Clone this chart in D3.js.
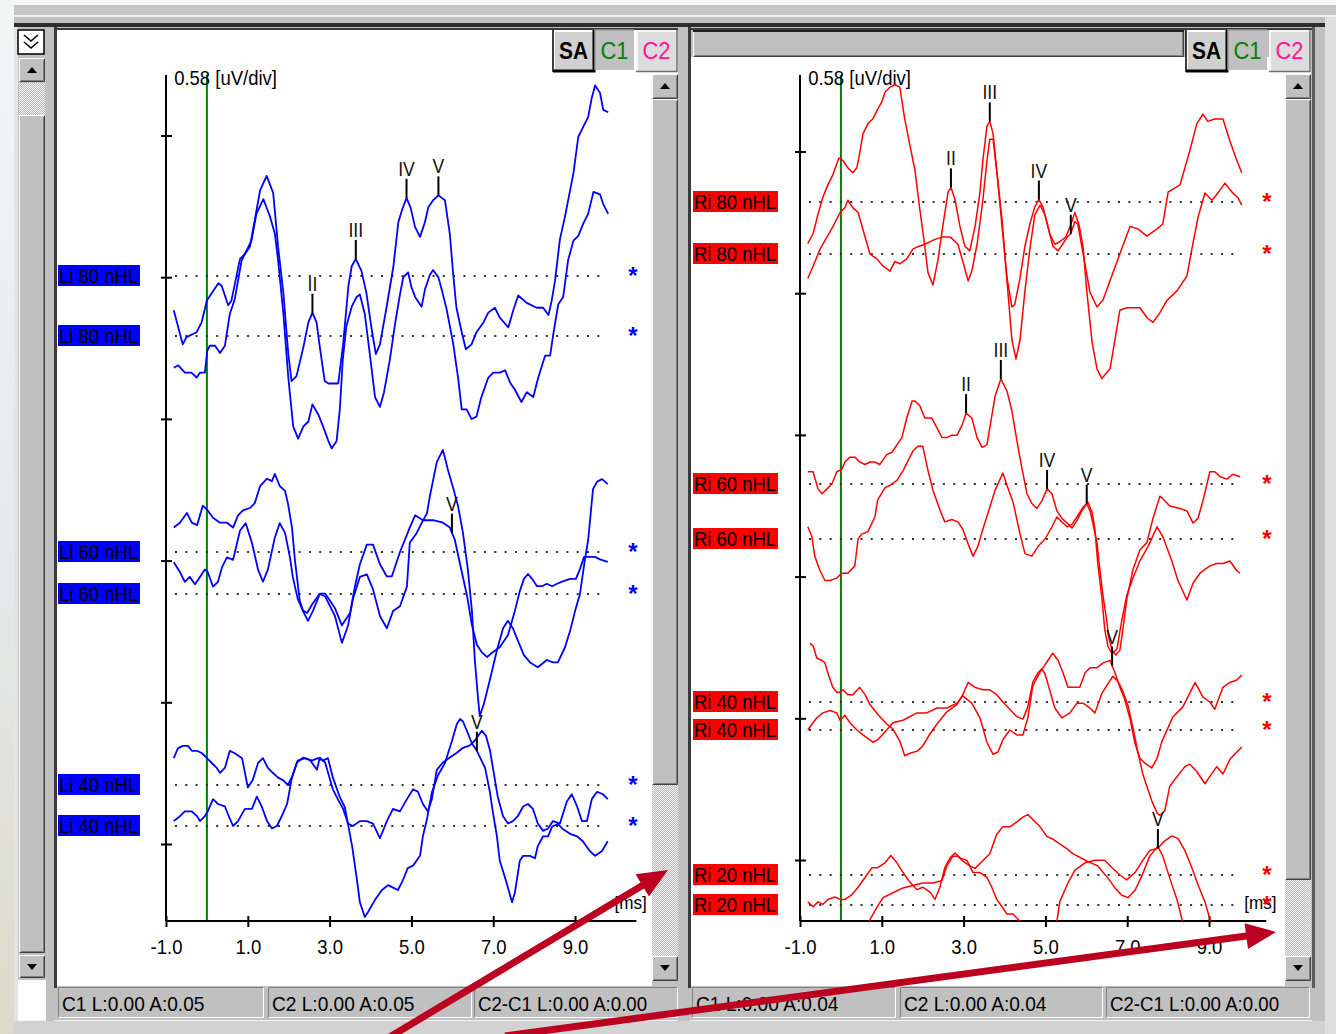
<!DOCTYPE html>
<html><head><meta charset="utf-8"><title>ABR</title>
<script src="https://cdn.jsdelivr.net/npm/d3@7/dist/d3.min.js"></script>
<style>html,body{margin:0;padding:0;overflow:hidden;background:#fff}svg{display:block}</style>
</head><body><svg id="chart" width="1336" height="1034"></svg>
<script>
// ================= DATA =================
const xTicks = [-1, 1, 3, 5, 7, 9];
const uvPerDiv = 0.58;
const axisTitle = "0.58 [uV/div]";
const timeUnit = "[ms]";
const leftLabels = ["Li 80 nHL","Li 80 nHL","Li 60 nHL","Li 60 nHL","Li 40 nHL","Li 40 nHL"];
const rightLabels = ["Ri 80 nHL","Ri 80 nHL","Ri 60 nHL","Ri 60 nHL","Ri 40 nHL","Ri 40 nHL","Ri 20 nHL","Ri 20 nHL"];
const leftStatus = ["C1 L:0.00 A:0.05","C2 L:0.00 A:0.05","C2-C1 L:0.00 A:0.00"];
const rightStatus = ["C1 L:0.00 A:0.04","C2 L:0.00 A:0.04","C2-C1 L:0.00 A:0.00"];
const buttons = ["SA","C1","C2"];

// traces: [time ms, amplitude uV relative to the trace baseline]
const li80a = [[-0.81,-0.14],[-0.59,-0.28],[-0.50,-0.25],[-0.25,-0.23],[-0.13,-0.19],[0.00,-0.10],[0.08,-0.08],[0.28,-0.03],[0.36,-0.04],[0.52,-0.12],[0.60,-0.10],[0.81,0.07],[0.93,0.09],[1.05,0.12],[1.17,0.23],[1.30,0.35],[1.46,0.41],[1.62,0.34],[1.74,0.12],[1.87,-0.07],[1.99,-0.32],[2.07,-0.43],[2.19,-0.41],[2.36,-0.29],[2.48,-0.19],[2.58,-0.15],[2.68,-0.19],[2.76,-0.29],[2.88,-0.43],[2.97,-0.44],[3.21,-0.44],[3.33,-0.28],[3.46,-0.04],[3.54,0.04],[3.64,0.07],[3.78,0.02],[3.90,-0.07],[4.03,-0.22],[4.13,-0.32],[4.23,-0.28],[4.39,-0.13],[4.56,0.04],[4.68,0.22],[4.77,0.27],[4.88,0.32],[4.98,0.28],[5.09,0.20],[5.21,0.16],[5.33,0.22],[5.41,0.28],[5.53,0.31],[5.66,0.33],[5.82,0.31],[5.94,0.17],[6.02,0.01],[6.10,-0.13],[6.23,-0.23],[6.33,-0.30],[6.47,-0.28],[6.59,-0.23],[6.76,-0.19],[6.88,-0.15],[7.04,-0.13],[7.16,-0.17],[7.37,-0.21],[7.49,-0.14],[7.61,-0.08],[7.82,-0.11],[8.06,-0.13],[8.22,-0.13],[8.35,-0.16],[8.43,-0.10],[8.51,-0.02],[8.63,0.15],[8.75,0.24],[8.96,0.42],[9.08,0.57],[9.20,0.61],[9.32,0.65],[9.41,0.73],[9.49,0.78],[9.61,0.75],[9.69,0.68],[9.81,0.67]];
const li80b = [[-0.81,-0.13],[-0.70,-0.12],[-0.54,-0.15],[-0.38,-0.15],[-0.25,-0.17],[-0.17,-0.15],[-0.05,-0.15],[0.01,-0.06],[0.07,-0.04],[0.20,-0.04],[0.32,-0.07],[0.44,-0.04],[0.56,0.09],[0.68,0.15],[0.85,0.31],[0.97,0.35],[1.09,0.39],[1.21,0.50],[1.38,0.56],[1.54,0.49],[1.66,0.42],[1.74,0.31],[1.87,0.09],[1.99,-0.17],[2.11,-0.37],[2.23,-0.42],[2.36,-0.37],[2.48,-0.35],[2.58,-0.28],[2.72,-0.32],[2.84,-0.37],[2.97,-0.43],[3.05,-0.46],[3.17,-0.43],[3.25,-0.30],[3.32,-0.10],[3.41,0.04],[3.54,0.12],[3.66,0.16],[3.74,0.17],[3.86,0.09],[3.98,-0.07],[4.11,-0.25],[4.23,-0.29],[4.33,-0.23],[4.47,-0.10],[4.60,0.05],[4.72,0.17],[4.80,0.24],[4.92,0.26],[5.00,0.20],[5.09,0.16],[5.25,0.12],[5.33,0.19],[5.45,0.25],[5.53,0.27],[5.66,0.24],[5.74,0.19],[5.86,0.11],[6.02,-0.03],[6.14,-0.17],[6.23,-0.30],[6.35,-0.30],[6.47,-0.34],[6.59,-0.33],[6.71,-0.25],[6.88,-0.17],[7.00,-0.15],[7.16,-0.15],[7.29,-0.14],[7.41,-0.19],[7.53,-0.22],[7.69,-0.27],[7.82,-0.23],[7.98,-0.25],[8.10,-0.17],[8.27,-0.08],[8.39,-0.08],[8.47,0.01],[8.59,0.13],[8.71,0.16],[8.83,0.31],[8.96,0.39],[9.08,0.41],[9.20,0.46],[9.32,0.50],[9.45,0.59],[9.61,0.58],[9.69,0.54],[9.81,0.50]];
const li60a = [[-0.81,0.10],[-0.66,0.12],[-0.49,0.16],[-0.37,0.12],[-0.24,0.11],[-0.10,0.19],[0.02,0.17],[0.15,0.14],[0.32,0.12],[0.49,0.12],[0.64,0.10],[0.76,0.15],[0.88,0.17],[1.05,0.18],[1.17,0.20],[1.30,0.27],[1.47,0.30],[1.59,0.29],[1.66,0.32],[1.78,0.27],[1.91,0.25],[1.98,0.20],[2.08,0.10],[2.15,-0.03],[2.27,-0.20],[2.35,-0.24],[2.45,-0.25],[2.59,-0.21],[2.76,-0.17],[2.89,-0.17],[3.01,-0.20],[3.13,-0.23],[3.30,-0.30],[3.50,-0.25],[3.62,-0.14],[3.74,-0.05],[3.91,0.03],[4.06,0.03],[4.23,-0.05],[4.40,-0.10],[4.52,-0.10],[4.72,0.00],[4.96,0.10],[5.09,0.15],[5.28,0.13],[5.53,0.13],[5.77,0.12],[5.94,0.10],[6.06,0.05],[6.19,-0.05],[6.36,-0.18],[6.48,-0.30],[6.60,-0.38],[6.72,-0.41],[6.85,-0.43],[6.99,-0.41],[7.16,-0.39],[7.36,-0.34],[7.53,-0.24],[7.65,-0.16],[7.75,-0.11],[7.85,-0.09],[7.95,-0.11],[8.07,-0.14],[8.19,-0.14],[8.31,-0.13],[8.44,-0.14],[8.56,-0.13],[8.70,-0.12],[8.88,-0.11],[9.02,-0.11],[9.12,-0.07],[9.22,-0.02],[9.36,-0.02],[9.49,-0.02],[9.61,-0.03],[9.80,-0.04]];
const li60b = [[-0.81,0.13],[-0.66,0.09],[-0.54,0.05],[-0.42,0.07],[-0.29,0.04],[-0.17,0.07],[-0.05,0.10],[0.02,0.09],[0.15,0.03],[0.27,0.05],[0.37,0.11],[0.49,0.15],[0.64,0.14],[0.81,0.26],[0.95,0.29],[1.10,0.21],[1.25,0.10],[1.37,0.05],[1.49,0.10],[1.66,0.23],[1.78,0.29],[1.91,0.25],[2.03,0.15],[2.10,0.07],[2.22,-0.02],[2.35,-0.07],[2.47,-0.11],[2.59,-0.07],[2.76,0.00],[2.89,-0.01],[3.01,-0.05],[3.13,-0.09],[3.30,-0.20],[3.45,-0.13],[3.57,-0.02],[3.74,0.07],[3.91,0.08],[4.06,0.02],[4.23,-0.09],[4.40,-0.14],[4.55,-0.07],[4.72,-0.05],[4.89,0.03],[4.96,0.21],[5.13,0.25],[5.28,0.30],[5.38,0.33],[5.45,0.40],[5.62,0.54],[5.77,0.59],[5.89,0.51],[6.01,0.44],[6.14,0.36],[6.26,0.25],[6.38,0.10],[6.48,-0.07],[6.55,-0.27],[6.63,-0.43],[6.67,-0.50],[6.77,-0.45],[6.92,-0.35],[7.09,-0.23],[7.24,-0.14],[7.36,-0.11],[7.48,-0.14],[7.60,-0.19],[7.75,-0.25],[7.90,-0.28],[8.09,-0.30],[8.31,-0.27],[8.46,-0.28],[8.58,-0.28],[8.75,-0.22],[8.88,-0.15],[9.00,-0.07],[9.12,0.00],[9.24,0.14],[9.32,0.22],[9.44,0.43],[9.54,0.46],[9.66,0.47],[9.80,0.45]];
const li40a = [[-0.81,0.11],[-0.71,0.15],[-0.59,0.16],[-0.46,0.16],[-0.37,0.14],[-0.24,0.14],[-0.12,0.13],[0.00,0.11],[0.12,0.09],[0.24,0.07],[0.32,0.05],[0.44,0.07],[0.56,0.14],[0.68,0.13],[0.86,0.11],[0.93,0.05],[1.00,-0.01],[1.12,0.02],[1.25,0.09],[1.37,0.11],[1.49,0.07],[1.61,0.05],[1.74,0.03],[1.86,0.02],[1.98,0.00],[2.10,0.04],[2.22,0.10],[2.40,0.11],[2.57,0.10],[2.71,0.11],[2.84,0.10],[2.96,0.11],[3.08,0.03],[3.25,-0.05],[3.37,-0.09],[3.45,-0.16],[3.55,-0.25],[3.67,-0.39],[3.74,-0.48],[3.86,-0.54],[3.94,-0.52],[4.11,-0.47],[4.28,-0.43],[4.43,-0.41],[4.55,-0.42],[4.67,-0.43],[4.79,-0.39],[4.91,-0.34],[5.04,-0.33],[5.21,-0.29],[5.28,-0.21],[5.38,-0.14],[5.50,-0.03],[5.65,0.04],[5.82,0.09],[5.99,0.18],[6.11,0.25],[6.19,0.27],[6.26,0.26],[6.36,0.22],[6.48,0.17],[6.60,0.14],[6.80,0.07],[6.92,-0.03],[6.99,-0.11],[7.09,-0.21],[7.16,-0.31],[7.29,-0.38],[7.46,-0.48],[7.53,-0.44],[7.65,-0.31],[7.73,-0.29],[7.90,-0.29],[8.02,-0.30],[8.09,-0.25],[8.22,-0.21],[8.34,-0.21],[8.44,-0.17],[8.58,-0.16],[8.70,-0.18],[8.88,-0.20],[9.05,-0.21],[9.19,-0.23],[9.36,-0.27],[9.49,-0.29],[9.66,-0.27],[9.80,-0.23]];
const li40b = [[-0.81,0.02],[-0.66,0.04],[-0.54,0.06],[-0.37,0.06],[-0.24,0.04],[-0.17,0.02],[-0.05,0.04],[0.02,0.06],[0.15,0.11],[0.27,0.09],[0.44,0.08],[0.51,0.05],[0.64,0.00],[0.76,0.02],[0.93,0.07],[1.10,0.07],[1.22,0.12],[1.34,0.08],[1.47,0.02],[1.59,-0.01],[1.71,0.00],[1.83,0.04],[1.96,0.09],[2.08,0.20],[2.20,0.26],[2.35,0.28],[2.52,0.27],[2.69,0.23],[2.76,0.28],[2.89,0.26],[3.01,0.19],[3.08,0.15],[3.20,0.11],[3.33,0.07],[3.45,0.01],[3.57,0.00],[3.74,0.02],[3.91,0.02],[4.06,0.01],[4.23,-0.05],[4.40,0.02],[4.55,0.07],[4.72,0.06],[4.89,0.11],[5.04,0.15],[5.16,0.14],[5.28,0.09],[5.40,0.06],[5.50,0.11],[5.62,0.23],[5.77,0.26],[5.94,0.28],[6.11,0.30],[6.26,0.32],[6.43,0.33],[6.55,0.35],[6.72,0.39],[6.82,0.37],[6.92,0.31],[6.99,0.24],[7.11,0.12],[7.24,0.04],[7.36,0.01],[7.48,0.02],[7.60,0.04],[7.73,0.08],[7.85,0.09],[7.97,0.07],[8.09,0.01],[8.22,-0.02],[8.34,-0.01],[8.46,0.02],[8.63,0.01],[8.80,0.10],[8.92,0.13],[9.05,0.08],[9.17,0.02],[9.29,0.02],[9.41,0.11],[9.54,0.14],[9.68,0.13],[9.80,0.11]];

const ri80a = [[-0.81,-0.17],[-0.68,-0.13],[-0.56,-0.05],[-0.44,0.02],[-0.32,0.07],[-0.20,0.11],[-0.05,0.18],[0.05,0.17],[0.17,0.14],[0.29,0.12],[0.39,0.14],[0.46,0.20],[0.54,0.28],[0.66,0.32],[0.78,0.34],[0.90,0.38],[1.00,0.41],[1.08,0.45],[1.20,0.47],[1.32,0.48],[1.44,0.47],[1.56,0.34],[1.69,0.23],[1.81,0.13],[1.93,-0.03],[2.05,-0.18],[2.13,-0.29],[2.25,-0.34],[2.37,-0.24],[2.49,-0.10],[2.62,0.04],[2.69,0.06],[2.79,0.01],[2.91,-0.10],[3.03,-0.18],[3.15,-0.20],[3.28,-0.10],[3.40,0.04],[3.47,0.17],[3.57,0.31],[3.64,0.33],[3.72,0.28],[3.81,0.13],[3.94,-0.10],[4.06,-0.31],[4.18,-0.43],[4.25,-0.42],[4.38,-0.31],[4.50,-0.18],[4.62,-0.09],[4.74,-0.02],[4.84,0.01],[4.94,-0.02],[5.06,-0.10],[5.18,-0.18],[5.31,-0.20],[5.43,-0.17],[5.55,-0.14],[5.62,-0.13],[5.72,-0.08],[5.79,-0.09],[5.92,-0.21],[6.09,-0.37],[6.26,-0.43],[6.41,-0.40],[6.65,-0.29],[6.89,-0.18],[7.07,-0.10],[7.26,-0.11],[7.48,-0.14],[7.73,-0.11],[7.87,-0.09],[8.00,0.04],[8.29,0.07],[8.53,0.21],[8.70,0.32],[8.85,0.36],[8.97,0.33],[9.14,0.34],[9.34,0.34],[9.51,0.25],[9.68,0.17],[9.80,0.12]];
const ri80b = [[-0.81,-0.10],[-0.68,-0.05],[-0.51,0.02],[-0.34,0.07],[-0.20,0.11],[-0.02,0.17],[0.10,0.19],[0.17,0.22],[0.29,0.19],[0.42,0.17],[0.54,0.10],[0.71,0.00],[0.88,-0.02],[1.03,-0.05],[1.20,-0.07],[1.32,-0.03],[1.44,-0.04],[1.61,-0.02],[1.76,0.02],[1.88,0.03],[2.05,0.04],[2.30,0.06],[2.49,0.07],[2.67,0.07],[2.86,0.04],[2.98,-0.03],[3.11,-0.11],[3.20,-0.07],[3.33,0.04],[3.47,0.22],[3.57,0.38],[3.64,0.47],[3.72,0.47],[3.81,0.34],[3.94,0.14],[4.06,-0.11],[4.18,-0.35],[4.28,-0.43],[4.38,-0.35],[4.50,-0.15],[4.62,0.02],[4.74,0.16],[4.87,0.20],[4.99,0.16],[5.11,0.08],[5.23,0.04],[5.35,0.05],[5.50,0.07],[5.62,0.12],[5.72,0.17],[5.82,0.12],[5.92,0.03],[6.01,-0.15],[6.14,-0.36],[6.26,-0.47],[6.38,-0.51],[6.58,-0.47],[6.70,-0.35],[6.82,-0.23],[6.99,-0.22],[7.31,-0.22],[7.48,-0.26],[7.63,-0.28],[7.80,-0.24],[7.97,-0.19],[8.22,-0.15],[8.46,-0.09],[8.58,0.02],[8.73,0.15],[8.90,0.25],[9.07,0.22],[9.22,0.25],[9.39,0.29],[9.58,0.25],[9.71,0.23],[9.80,0.20]];
const ri60a = [[-0.81,0.05],[-0.68,0.05],[-0.56,-0.02],[-0.46,-0.04],[-0.34,-0.02],[-0.22,0.00],[-0.10,0.05],[0.02,0.06],[0.10,0.09],[0.22,0.11],[0.34,0.11],[0.46,0.09],[0.59,0.08],[0.71,0.09],[0.83,0.09],[0.95,0.08],[1.12,0.12],[1.25,0.13],[1.37,0.16],[1.49,0.19],[1.61,0.27],[1.74,0.34],[1.81,0.34],[1.93,0.32],[2.05,0.27],[2.22,0.27],[2.35,0.23],[2.47,0.19],[2.59,0.19],[2.71,0.20],[2.84,0.20],[2.96,0.24],[3.06,0.29],[3.20,0.27],[3.33,0.19],[3.45,0.15],[3.57,0.16],[3.64,0.23],[3.77,0.36],[3.91,0.43],[4.06,0.38],[4.18,0.30],[4.30,0.18],[4.43,0.06],[4.55,-0.04],[4.67,-0.08],[4.79,-0.10],[4.91,-0.07],[5.04,-0.02],[5.16,-0.04],[5.28,-0.11],[5.40,-0.14],[5.53,-0.16],[5.65,-0.18],[5.77,-0.15],[5.89,-0.11],[6.01,-0.08],[6.09,-0.11],[6.16,-0.16],[6.26,-0.24],[6.33,-0.35],[6.41,-0.46],[6.50,-0.56],[6.55,-0.63],[6.63,-0.68],[6.72,-0.70],[6.82,-0.68],[6.89,-0.60],[6.99,-0.47],[7.14,-0.35],[7.31,-0.27],[7.48,-0.24],[7.63,-0.14],[7.80,-0.05],[7.87,-0.06],[8.04,-0.09],[8.29,-0.10],[8.46,-0.11],[8.61,-0.16],[8.73,-0.14],[8.85,-0.07],[9.02,0.05],[9.14,0.05],[9.27,0.03],[9.44,0.02],[9.58,0.04],[9.76,0.03]];
const ri60b = [[-0.81,0.05],[-0.71,0.01],[-0.64,-0.07],[-0.51,-0.13],[-0.39,-0.17],[-0.27,-0.17],[-0.10,-0.16],[0.02,-0.14],[0.17,-0.14],[0.34,-0.11],[0.42,0.00],[0.51,0.02],[0.66,0.03],[0.83,0.09],[0.90,0.16],[1.08,0.21],[1.20,0.22],[1.37,0.24],[1.52,0.28],[1.64,0.32],[1.76,0.36],[1.88,0.38],[2.00,0.38],[2.13,0.28],[2.25,0.20],[2.42,0.12],[2.54,0.07],[2.71,0.08],[2.86,0.07],[2.98,0.04],[3.11,-0.02],[3.23,-0.07],[3.35,-0.03],[3.47,0.04],[3.64,0.13],[3.77,0.20],[3.96,0.27],[4.08,0.21],[4.21,0.15],[4.38,0.02],[4.50,-0.06],[4.67,-0.07],[4.82,-0.03],[4.99,0.00],[5.16,0.05],[5.28,0.09],[5.40,0.07],[5.53,0.05],[5.65,0.06],[5.77,0.09],[5.92,0.13],[6.04,0.15],[6.14,0.11],[6.21,0.04],[6.28,-0.10],[6.38,-0.24],[6.45,-0.37],[6.53,-0.44],[6.63,-0.47],[6.75,-0.45],[6.87,-0.33],[6.99,-0.23],[7.14,-0.16],[7.31,-0.09],[7.51,-0.03],[7.73,0.05],[7.87,0.01],[8.09,-0.09],[8.24,-0.17],[8.46,-0.25],[8.61,-0.18],[8.78,-0.14],[9.02,-0.11],[9.19,-0.10],[9.34,-0.10],[9.51,-0.09],[9.68,-0.13],[9.76,-0.14]];
const ri40a = [[-0.76,0.24],[-0.68,0.23],[-0.59,0.18],[-0.46,0.17],[-0.39,0.16],[-0.32,0.12],[-0.20,0.06],[-0.10,0.04],[-0.02,0.04],[0.05,0.05],[0.17,0.03],[0.29,0.03],[0.46,0.06],[0.59,0.03],[0.71,-0.01],[0.90,-0.05],[1.12,-0.09],[1.27,-0.11],[1.44,-0.16],[1.56,-0.22],[1.69,-0.21],[1.88,-0.20],[2.00,-0.18],[2.18,-0.13],[2.35,-0.09],[2.59,-0.04],[2.84,-0.01],[2.98,0.03],[3.11,0.08],[3.28,0.06],[3.47,0.05],[3.64,0.05],[3.81,0.03],[3.96,0.00],[4.13,-0.03],[4.30,-0.06],[4.45,-0.07],[4.57,-0.02],[4.69,0.08],[4.82,0.12],[4.94,0.14],[5.06,0.17],[5.18,0.20],[5.31,0.17],[5.43,0.12],[5.55,0.06],[5.67,0.06],[5.84,0.06],[5.97,0.12],[6.09,0.14],[6.26,0.14],[6.41,0.16],[6.58,0.17],[6.70,0.12],[6.82,0.06],[6.94,0.01],[7.07,-0.07],[7.19,-0.17],[7.31,-0.23],[7.43,-0.25],[7.60,-0.27],[7.73,-0.23],[7.85,-0.16],[8.12,-0.06],[8.36,-0.02],[8.66,0.08],[8.85,0.02],[9.02,0.00],[9.14,-0.03],[9.34,0.06],[9.51,0.08],[9.68,0.09],[9.80,0.11]];
const ri40b = [[-0.81,0.00],[-0.59,0.05],[-0.44,0.07],[-0.27,0.08],[-0.10,0.07],[-0.02,0.04],[0.10,0.06],[0.22,0.03],[0.39,0.00],[0.54,-0.02],[0.78,-0.05],[0.90,-0.04],[1.12,0.00],[1.27,0.03],[1.52,0.04],[1.86,0.07],[2.10,0.07],[2.35,0.09],[2.59,0.09],[2.84,0.11],[2.98,0.14],[3.20,0.11],[3.40,0.05],[3.57,-0.05],[3.72,-0.10],[3.84,-0.09],[3.96,-0.04],[4.13,0.00],[4.30,-0.02],[4.45,-0.02],[4.57,0.05],[4.69,0.18],[4.91,0.25],[4.99,0.23],[5.11,0.16],[5.23,0.09],[5.40,0.05],[5.60,0.07],[5.77,0.11],[5.92,0.11],[6.09,0.09],[6.21,0.07],[6.38,0.15],[6.53,0.19],[6.65,0.22],[6.77,0.20],[6.89,0.16],[7.02,0.10],[7.14,0.01],[7.26,-0.09],[7.38,-0.18],[7.48,-0.23],[7.60,-0.29],[7.73,-0.34],[7.80,-0.35],[7.92,-0.33],[8.04,-0.23],[8.22,-0.19],[8.41,-0.15],[8.53,-0.14],[8.70,-0.17],[8.90,-0.22],[9.02,-0.19],[9.19,-0.15],[9.34,-0.18],[9.51,-0.12],[9.68,-0.09],[9.80,-0.07]];
const ri20a = [[-0.81,-0.11],[-0.68,-0.13],[-0.56,-0.11],[-0.44,-0.12],[-0.32,-0.10],[-0.15,-0.09],[-0.02,-0.10],[0.10,-0.10],[0.27,-0.08],[0.42,-0.05],[0.59,-0.01],[0.76,0.03],[0.90,0.03],[1.08,0.05],[1.22,0.08],[1.37,0.05],[1.52,0.01],[1.69,-0.03],[1.86,-0.06],[2.00,-0.05],[2.18,-0.07],[2.30,-0.10],[2.42,-0.05],[2.54,0.03],[2.67,0.07],[2.79,0.09],[2.91,0.07],[3.08,0.06],[3.23,0.01],[3.40,0.01],[3.57,-0.01],[3.69,-0.05],[3.81,-0.10],[3.94,-0.13],[4.06,-0.16],[4.21,-0.16],[4.38,-0.19],[4.62,-0.29],[4.99,-0.29],[5.23,-0.25],[5.35,-0.11],[5.53,-0.04],[5.72,0.02],[5.97,0.05],[6.21,0.06],[6.45,0.06],[6.63,0.03],[6.82,0.00],[6.99,-0.02],[7.19,0.01],[7.38,0.06],[7.55,0.10],[7.75,0.11],[7.92,0.14],[8.09,0.16],[8.24,0.15],[8.41,0.10],[8.58,0.03],[8.73,-0.04],[8.90,-0.11],[9.02,-0.18],[9.17,-0.27]];
const ri20b = [[0.34,-0.23],[0.71,-0.06],[0.88,-0.01],[1.03,0.03],[1.27,0.05],[1.52,0.07],[1.76,0.08],[2.00,0.09],[2.25,0.09],[2.47,0.10],[2.59,0.16],[2.74,0.20],[2.86,0.20],[2.98,0.18],[3.15,0.16],[3.28,0.15],[3.40,0.17],[3.64,0.21],[3.81,0.29],[3.96,0.32],[4.13,0.32],[4.30,0.34],[4.45,0.36],[4.57,0.37],[4.69,0.35],[4.87,0.32],[5.04,0.28],[5.18,0.27],[5.35,0.25],[5.53,0.23],[5.67,0.21],[6.01,0.18],[6.28,0.16],[6.53,0.11],[6.70,0.07],[6.87,0.04],[7.02,0.03],[7.19,0.06],[7.36,0.12],[7.55,0.20],[7.75,0.24],[7.87,0.20],[8.04,0.11],[8.22,0.02],[8.34,-0.06],[8.44,-0.14]];

// wave peak markers: [label, time ms]
const li80aPeaks = [["II",2.58],["III",3.64],["IV",4.88],["V",5.66]];
const li60aPeaks = [["V",5.99]];
const li40aPeaks = [["V",6.60]];
const ri80aPeaks = [["II",2.69],["III",3.64],["IV",4.84],["V",5.62]];
const ri60aPeaks = [["II",3.06],["III",3.91],["IV",5.04],["V",6.01]];
const ri40aPeaks = [["V",6.63]];
const ri20aPeaks = [["V",7.75]];

// ================= DRAWING =================
const FONT = '"Liberation Sans", Arial, Helvetica, sans-serif';
const svg = d3.select("#chart").attr("font-family", FONT);
const defs = svg.append("defs");
const pat = defs.append("pattern").attr("id","dither").attr("width",2).attr("height",2).attr("patternUnits","userSpaceOnUse");
pat.append("rect").attr("width",2).attr("height",2).attr("fill","#b8b8b8");
pat.append("rect").attr("width",1).attr("height",1).attr("fill","#f4f4f4");
pat.append("rect").attr("x",1).attr("y",1).attr("width",1).attr("height",1).attr("fill","#f4f4f4");
const bgGrad = defs.append("linearGradient").attr("id","bgGrad").attr("x1",0).attr("y1",0).attr("x2",0).attr("y2",1);
bgGrad.append("stop").attr("offset","0").attr("stop-color","#f2f6f7");
bgGrad.append("stop").attr("offset","0.5").attr("stop-color","#e4ebee");
bgGrad.append("stop").attr("offset","1").attr("stop-color","#ddd9c8");

// condense text horizontally (original UI font is narrower than Liberation Sans)
function condense(sel, f){ sel.each(function(){ const L=this.getComputedTextLength(); if(L>0) d3.select(this).attr("textLength",L*f).attr("lengthAdjust","spacingAndGlyphs"); }); return sel; }

function rect(x,y,w,h,fill,g){ return (g||svg).append("rect").attr("x",x).attr("y",y).attr("width",w).attr("height",h).attr("fill",fill); }
function pline(d,stroke,w,g){ return (g||svg).append("path").attr("d",d).attr("stroke",stroke).attr("stroke-width",w).attr("fill","none"); }
function raised(x,y,w,h,fill){
  rect(x,y,w,h,fill||"#c0c0c0");
  pline(`M${x+0.5},${y+h-1}V${y+0.5}H${x+w-1}`,"#ffffff",1);
  pline(`M${x+1},${y+h-0.5}H${x+w-0.5}V${y+1}`,"#404040",1);
  pline(`M${x+2},${y+h-1.5}H${x+w-1.5}V${y+2}`,"#808080",1);
}
function sunken(x,y,w,h,fill){
  rect(x,y,w,h,fill||"#c0c0c0");
  pline(`M${x+0.5},${y+h-1}V${y+0.5}H${x+w-1}`,"#808080",1);
  pline(`M${x+1},${y+h-0.5}H${x+w-0.5}V${y+1}`,"#ffffff",1);
}
function triUp(cx,cy){ svg.append("path").attr("d",`M${cx-5},${cy+3}L${cx+5},${cy+3}L${cx},${cy-3}Z`).attr("fill","#000"); }
function triDown(cx,cy){ svg.append("path").attr("d",`M${cx-5},${cy-3}L${cx+5},${cy-3}L${cx},${cy+3}Z`).attr("fill","#000"); }

// ---- window chrome ----
rect(0,0,1336,1034,"#c0c0c0");
rect(0,0,14,1034,"url(#bgGrad)");
rect(14,0,1322,5,"#f6f6f6");
rect(14,5,1322,10,"#c6c6c6");
rect(14,15,1322,2,"#f0f0f0");
rect(14,17,1322,6,"#c0c0c0");
rect(14,23,1311,4,"#2c2c2c");
rect(1325,17,11,1017,"#dedede");
rect(14,1021,1311,13,"#d2d2d2");
rect(14,1020,1311,1,"#f4f4f4");

// left outer scrollbar
rect(14,27,4,994,"#e4e4e4");
rect(18,30,26,24,"#ffffff").attr("stroke","#000").attr("stroke-width",1.5);
pline("M24,35L31,41L38,35M24,42L31,48L38,42","#000",1.6);
raised(19,58,26,24); triUp(32,70);
rect(19,83,26,32,"url(#dither)");
raised(19,115,26,838);
raised(19,955,26,23); triDown(32,967);
rect(18,980,28,40,"#ffffff");
rect(46,27,8,994,"#c0c0c0");
rect(54,27,3,961,"#3a3a3a");

// left plot window
rect(57,29,595,957,"#ffffff");
rect(57,28,621,2,"#3a3a3a");
// right window
rect(678,27,12,994,"#c0c0c0");
rect(688,27,3,961,"#3a3a3a");
rect(691,28,621,2,"#3a3a3a");
rect(691,57,594,929,"#ffffff");
raised(693,30,491,27);
pline("M693,31H1184","#202020",2);
rect(1312,27,13,994,"#c0c0c0");
rect(1312,27,3,961,"#5a5a5a");

// plot-panel scrollbars
function panelScroll(x,thumbEnd){
  rect(x,30,26,44,"#ffffff");
  raised(x,74,26,25); triUp(x+13,86);
  raised(x,99,26,thumbEnd-99);
  rect(x,thumbEnd,26,956-thumbEnd,"url(#dither)");
  raised(x,956,26,25); triDown(x+13,968);
}
panelScroll(652,785);
panelScroll(1285,880);

// SA / C1 / C2 buttons
function btnGroup(x0){
  const xs=[x0, x0+42, x0+83], ws=[41,39,41], cols=["#000000","#008000","#ff1493"];
  rect(xs[0],30,ws[0],42,"#d0d0d0");
  pline(`M${xs[0]+1},${71}V${31}H${xs[0]+ws[0]-1}`,"#ffffff",2);
  pline(`M${xs[0]},${71}H${xs[0]+ws[0]}V${30}`,"#000",3);
  pline(`M${xs[0]},${72}V${30}`,"#000",1.5);
  rect(xs[1],30,ws[1],40,"#c0c0c0");
  pline(`M${xs[1]},${70}V${30}H${xs[1]+ws[1]}`,"#9a9a9a",1.5);
  rect(xs[2],30,ws[2],42,"#dcdcdc");
  pline(`M${xs[2]+1},${71}V${31}H${xs[2]+ws[2]-1}`,"#ffffff",1.5);
  pline(`M${xs[2]},${71.5}H${xs[2]+ws[2]}V${30}`,"#707070",1.5);
  buttons.forEach((b,i)=>{
    svg.append("text").attr("x",xs[i]+ws[i]/2).attr("y",59).attr("text-anchor","middle")
      .attr("font-size",24).attr("font-weight",i===0?"bold":"normal").attr("fill",cols[i])
      .attr("textLength",i===0?29:28).attr("lengthAdjust","spacingAndGlyphs").text(b);
  });
}
btnGroup(553);
btnGroup(1186);

// status bars
function statusBar(cells,texts){
  cells.forEach((c,i)=>{
    sunken(c[0],987,c[1],31);
    svg.append("text").attr("x",c[0]+4).attr("y",1011).attr("font-size",21).attr("fill","#000")
      .attr("textLength",texts[i].length*8.9).attr("lengthAdjust","spacingAndGlyphs").text(texts[i]);
  });
}
statusBar([[58,206],[268,204],[474,204]], leftStatus);
statusBar([[692,204],[900,203],[1106,204]], rightStatus);

// ---- chart panels ----
const amp = d3.scaleLinear().domain([0, uvPerDiv]).range([0, 141.7]);
function valueAt(data,t){
  for(let i=1;i<data.length;i++){ if(data[i][0]>=t){ const a=data[i-1], b=data[i]; return a[1]+(b[1]-a[1])*(t-a[0])/(b[0]-a[0]); } }
  return data[data.length-1][1];
}
function drawPanel(P){
  const x = d3.scaleLinear().domain(P.xDomain).range(P.xRange);
  const g = svg.append("g");
  const cid = "clip"+P.id;
  defs.append("clipPath").attr("id",cid).append("rect").attr("x",P.xRange[0]-6).attr("y",30).attr("width",P.xRange[1]-P.xRange[0]+10).attr("height",891);
  // green stimulus line
  g.append("line").attr("x1",x(0)).attr("x2",x(0)).attr("y1",75).attr("y2",921).attr("stroke","#008000").attr("stroke-width",2);
  // y axis with division ticks
  g.append("line").attr("x1",P.xRange[0]).attr("x2",P.xRange[0]).attr("y1",75).attr("y2",921).attr("stroke","#000").attr("stroke-width",2);
  d3.range(6).forEach(k=>{
    const yy = P.tickTop + amp(uvPerDiv*k);
    g.append("line").attr("x1",P.xRange[0]-5).attr("x2",P.xRange[0]+6).attr("y1",yy).attr("y2",yy).attr("stroke","#000").attr("stroke-width",2);
  });
  // x axis
  const ax = d3.axisBottom(x).tickValues(xTicks).tickFormat(d=>d.toFixed(1)).tickSizeOuter(0).tickSize(6);
  const axG = g.append("g").attr("transform","translate(0,921)").call(ax);
  axG.select(".domain").remove();
  axG.append("line").attr("x1",P.xRange[0]).attr("x2",P.xRange[1]).attr("stroke","#000").attr("stroke-width",2);
  axG.selectAll(".tick line").attr("y1",-5).attr("y2",6).attr("stroke","#000").attr("stroke-width",2);
  condense(axG.selectAll(".tick text").attr("y",33).attr("dy",null).attr("font-size",21).attr("font-family",FONT).attr("fill","#000"), 0.88);
  // titles
  condense(g.append("text").attr("x",x(-0.8)).attr("y",85).attr("font-size",21).attr("fill","#000").text(axisTitle), 0.88);
  condense(g.append("text").attr("x",P.xRange[1]-22).attr("y",909).attr("font-size",19).attr("fill","#000").text(timeUnit), 0.9);
  // baselines, labels, asterisks
  P.traces.forEach((t,i)=>{
    const b = P.bases[i];
    g.append("line").attr("x1",x(-0.78)).attr("x2",x(9.76)).attr("y1",b).attr("y2",b)
      .attr("stroke","#333").attr("stroke-width",2).attr("stroke-dasharray","2 8.3");
    g.append("rect").attr("x",P.labelX).attr("y",b-11).attr("width",P.labelW).attr("height",21).attr("fill",P.color);
    g.append("text").attr("x",P.labelX+1).attr("y",b+7).attr("font-size",20).attr("fill","#000")
      .attr("textLength",P.labelW-3).attr("lengthAdjust","spacingAndGlyphs").text(P.labels[i]);
    g.append("text").attr("x",P.starX).attr("y",b+8).attr("text-anchor","middle").attr("font-size",24).attr("font-weight","bold").attr("fill",P.color).text("*");
  });
  // traces
  const tg = g.append("g").attr("clip-path",`url(#${cid})`);
  P.traces.forEach((t,i)=>{
    const b = P.bases[i];
    const line = d3.line().x(d=>x(d[0])).y(d=>b-amp(d[1]));
    tg.append("path").datum(t).attr("d",line).attr("fill","none").attr("stroke",P.color)
      .attr("stroke-width",P.lw).attr("stroke-linejoin","round");
  });
  // peak markers
  P.peaks.forEach((pk,i)=>{
    if(!pk) return;
    const b = P.bases[i];
    pk.forEach(([lab,t])=>{
      const px = x(t), py = b-amp(valueAt(P.traces[i],t));
      g.append("line").attr("x1",px).attr("x2",px).attr("y1",py).attr("y2",py-19).attr("stroke","#000").attr("stroke-width",2);
      condense(g.append("text").attr("x",px).attr("y",py-22).attr("text-anchor","middle").attr("font-size",20).attr("fill","#111").text(lab), 0.88);
    });
  });
}
drawPanel({id:"L", xDomain:[-1,10.5], xRange:[166,636.4], tickTop:136, color:"#0000ff", lw:1.8,
  bases:[276,336,552,594,785,826], labelX:58, labelW:82, starX:633, labels:leftLabels,
  traces:[li80a,li80b,li60a,li60b,li40a,li40b], peaks:[li80aPeaks,null,li60aPeaks,null,li40aPeaks,null]});
drawPanel({id:"R", xDomain:[-1,10.4], xRange:[800,1266.3], tickTop:152, color:"#ff0000", lw:1.5,
  bases:[202,254,484,539,702,730,875,905], labelX:693, labelW:85, starX:1267, labels:rightLabels,
  traces:[ri80a,ri80b,ri60a,ri60b,ri40a,ri40b,ri20a,ri20b], peaks:[ri80aPeaks,null,ri60aPeaks,null,ri40aPeaks,null,ri20aPeaks,null]});

// ---- annotation arrows ----
function arrow(x1,y1,x2,y2){
  const a = Math.atan2(y2-y1,x2-x1), hl=30, hw=13;
  const bx = x2-hl*Math.cos(a), by = y2-hl*Math.sin(a);
  svg.append("line").attr("x1",x1).attr("y1",y1).attr("x2",bx+2*Math.cos(a)).attr("y2",by+2*Math.sin(a)).attr("stroke","#bb0020").attr("stroke-width",7);
  svg.append("path").attr("d",`M${x2},${y2}L${bx+hw*Math.sin(a)},${by-hw*Math.cos(a)}L${bx-hw*Math.sin(a)},${by+hw*Math.cos(a)}Z`).attr("fill","#bb0020");
}
arrow(388,1038,668,870);
arrow(505,1036,1276,932);
</script></body></html>
